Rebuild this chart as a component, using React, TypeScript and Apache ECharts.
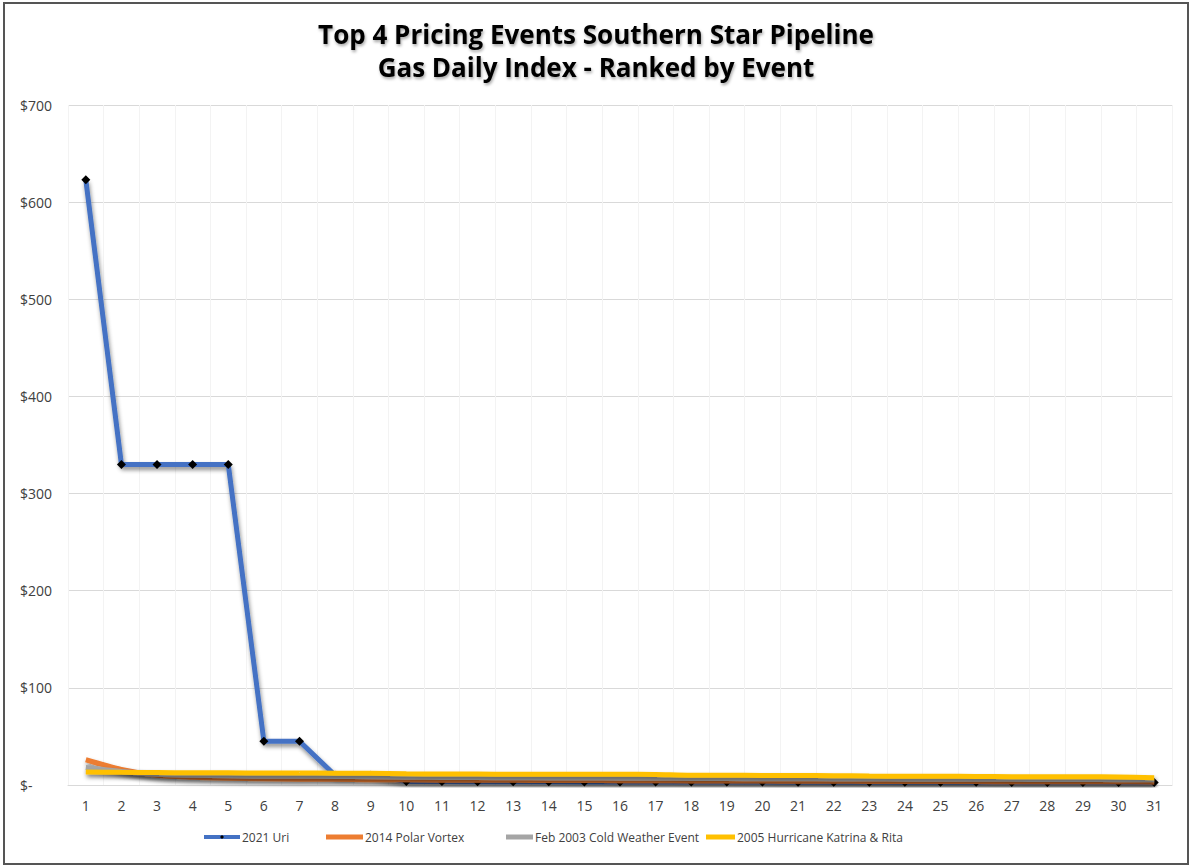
import React, { useEffect, useRef } from "react";
import * as echarts from "echarts";

const days = Array.from({ length: 31 }, (_, i) => String(i + 1));
const uri = [623, 330, 330, 330, 330, 45, 45, 10, 10, 3.5, 3.5, 3.4, 3.3, 3.3, 3.2, 3.2, 3.1, 3, 3, 3, 2.9, 2.9, 2.9, 2.8, 2.8, 2.8, 2.7, 2.7, 2.7, 2.6, 2.6];
const polarVortex = [26, 16, 10, 8, 7, 6.5, 6, 5.8, 5.5, 5.3, 5, 5, 4.8, 4.7, 4.6, 4.5, 4.4, 4.2, 4, 4, 3.9, 3.8, 3.7, 3.6, 3.5, 3.5, 3.4, 3.4, 3.3, 3.3, 3.2];
const feb2003 = [18, 14, 11, 10, 9.5, 9, 9, 8.8, 8.5, 8, 7.8, 7.6, 7.5, 7.3, 7.2, 7, 7, 6.8, 6.6, 6.5, 6.4, 6.3, 6.2, 6, 6, 5.9, 5.8, 5.7, 5.6, 5.5, 5.5];
const katrina = [13.5, 13, 12.8, 12.6, 12.5, 12.4, 12.3, 12.2, 12, 11.5, 11.3, 11.2, 11.1, 11, 11, 11, 10.8, 10, 10, 9.8, 9.7, 9.6, 9.2, 9, 9, 8.8, 8.6, 8.5, 8.5, 8.3, 7.5];

const seriesNames = ["2021 Uri", "2014 Polar Vortex", "Feb 2003 Cold Weather Event", "2005 Hurricane Katrina & Rita"];
const colors = ["#4472C4", "#ED7D31", "#A5A5A5", "#FFC000"];

export default function App() {
  const ref = useRef<HTMLDivElement>(null);
  useEffect(() => {
    if (!ref.current) return;
    const chart = echarts.init(ref.current, undefined, { renderer: "svg" });
    const shadow = { shadowColor: "rgba(0,0,0,0.45)", shadowBlur: 4, shadowOffsetX: 1, shadowOffsetY: 3 };
    const datasets = [uri, polarVortex, feb2003, katrina];
    const legendLefts = [202, 326, 506, 706];
    const legendWidths = [36, 37, 27, 29];
    chart.setOption({
      animation: false,
      backgroundColor: "#ffffff",
      textStyle: { fontFamily: "Open Sans" },
      title: {
        text: "Top 4 Pricing Events Southern Star Pipeline\nGas Daily Index - Ranked by Event",
        left: "center",
        top: 12,
        textStyle: {
          fontFamily: "Open Sans",
          fontSize: 26,
          fontWeight: "bold",
          color: "#000000",
          lineHeight: 33,
          textShadowColor: "rgba(0,0,0,0.35)",
          textShadowBlur: 3,
          textShadowOffsetX: 1,
          textShadowOffsetY: 2,
        },
      },
      graphic: [
        {
          type: "rect",
          shape: { x: 4, y: 3, width: 1184, height: 861 },
          style: { fill: "none", stroke: "#555555", lineWidth: 2 },
          silent: true,
        },
      ],
      legend: seriesNames.map((n, i) => ({
        top: 831,
        left: legendLefts[i],
        itemWidth: legendWidths[i],
        itemHeight: 5,
        itemGap: 2,
        padding: 0,
        textStyle: {
          fontSize: 12,
          color: "#404040",
          fontFamily: "Open Sans",
          padding: [0, 0, 0, -3],
        },
        data: [
          i === 0
            ? { name: n, lineStyle: { width: 4 }, itemStyle: { color: "#000000" } }
            : { name: n, icon: "rect" },
        ],
      })),
      grid: { left: 68, right: 20, top: 105, bottom: 82 },
      xAxis: {
        type: "category",
        data: days,
        boundaryGap: true,
        axisLine: { show: true, lineStyle: { color: "#d9d9d9" } },
        axisTick: { show: false },
        axisLabel: { color: "#404040", fontSize: 14, margin: 13 },
        splitLine: { show: true, lineStyle: { color: "#f3f3f3", width: 1 } },
      },
      yAxis: {
        type: "value",
        min: 0,
        max: 700,
        interval: 100,
        axisLine: { show: false },
        axisTick: { show: false },
        axisLabel: {
          color: "#404040",
          fontSize: 14,
          margin: 48,
          align: "left",
          formatter: (v: number) => (v === 0 ? "$-" : "$" + v),
        },
        splitLine: { lineStyle: { color: "#d9d9d9", width: 1 } },
      },
      series: datasets.map((d, i) => ({
        name: seriesNames[i],
        type: "line",
        data: d,
        smooth: i === 0 ? false : 0.3,
        symbol: i === 0 ? "diamond" : "none",
        symbolSize: 9,
        showSymbol: i === 0,
        itemStyle: { color: i === 0 ? "#000000" : colors[i] },
        lineStyle: { color: colors[i], width: 5, ...shadow },
        z: 2 + i,
      })),
    });
    return () => chart.dispose();
  }, []);
  return (
    <div
      ref={ref}
      style={{ position: "fixed", left: 0, top: 0, width: 1192, height: 867 }}
    />
  );
}
